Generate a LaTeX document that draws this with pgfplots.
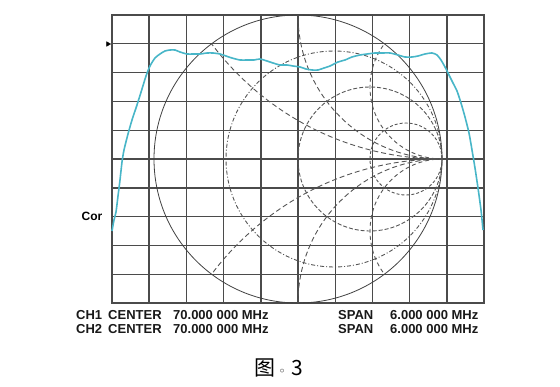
\documentclass[border=0pt]{standalone}
\usepackage{pgfplots}
\pgfplotsset{compat=1.18}
\usepackage{fontspec}
\setmainfont{Liberation Sans}
\newfontfamily\cjk{Noto Sans CJK SC}
\newfontfamily\dejavu{DejaVu Sans}
\definecolor{trace}{RGB}{72,182,200}
\definecolor{gridc}{RGB}{75,75,75}
\definecolor{smithc}{RGB}{85,85,85}
\pgfplotstableread{
x y
0 72
2 83
4 91
6 107
8 123
10 141
12 153
16 169
20 183
25 198
30 214
34 227
38 237
43 245
48 249
53 252
58 253
63 253
68 251
75 249
81 249
88 249
95 250
101 250
108 249
114 247
120 245
128 243
135 243
142 243
148 244
155 242
161 240
168 238
175 238
181 237
188 236
194 234
200 233
206 233
212 235
218 237
226 241
233 243
240 246
248 248
255 249
263 250
270 250
278 250
286 248
293 246
300 246
306 247
313 249
320 250
325 248
329 243
333 236
337 228
341 220
345 212
349 200
353 186
357 170
360 153
363 135
366 115
369 93
371 73
}\tracedata
\begin{document}
\begin{tikzpicture}
\path (-112pt,-83pt) rectangle (448pt,303pt);
\begin{axis}[
  at={(0pt,0pt)}, anchor=south west,
  scale only axis, width=372pt, height=288pt,
  xmin=0, xmax=372, ymin=0, ymax=288,
  xtick={37.2,74.4,111.6,148.8,186,223.2,260.4,297.6,334.8},
  ytick={28.8,57.6,86.4,115.2,144,172.8,201.6,230.4,259.2},
  xticklabels={}, yticklabels={},
  major tick length=0pt,
  grid=major,
  major grid style={gridc, line width=1.4pt},
  axis line style={gridc, line width=1.4pt},
  clip=false,
]
% Smith chart overlay
\draw[black!75, line width=0.8pt] (axis cs:186,144) circle [radius=144];
\draw[smithc, line width=0.9pt, dash pattern=on 4pt off 2pt on 1pt off 2pt] (axis cs:222,144) circle [radius=108];
\draw[smithc, line width=0.9pt, dash pattern=on 4pt off 2pt] (axis cs:258,144) circle [radius=72];
\draw[smithc, line width=0.9pt, dash pattern=on 3pt off 2pt] (axis cs:294,144) circle [radius=36];
\begin{scope}
  \clip (axis cs:186,144) circle [radius=144];
  \draw[smithc, line width=0.9pt, dash pattern=on 5pt off 3pt] (axis cs:330,432) circle [radius=288];
  \draw[smithc, line width=0.9pt, dash pattern=on 5pt off 3pt] (axis cs:330,-144) circle [radius=288];
  \draw[smithc, line width=0.9pt, dash pattern=on 5pt off 3pt] (axis cs:330,288) circle [radius=144];
  \draw[smithc, line width=0.9pt, dash pattern=on 5pt off 3pt] (axis cs:330,0) circle [radius=144];
  \draw[smithc, line width=0.9pt, dash pattern=on 4pt off 3pt] (axis cs:330,216) circle [radius=72];
  \draw[smithc, line width=0.9pt, dash pattern=on 4pt off 3pt] (axis cs:330,72) circle [radius=72];
\end{scope}
% trace
\addplot[trace, line width=1.6pt, smooth, tension=0.4] table[x=x,y=y] {\tracedata};
% reference marker
\addplot[black, mark=triangle*, mark size=2.6pt, mark options={rotate=-90}, only marks] coordinates {(-4,259)};
\node[font=\bfseries\fontsize{12}{14}\selectfont] at (axis cs:-20,87) {Cor};
% annotations
\tikzset{lab/.style={anchor=base west, font=\bfseries\fontsize{13}{15}\selectfont, inner sep=0pt, text=black!90}}
\node[lab] at (axis cs:-36,-16) {CH1};
\node[lab] at (axis cs:-4,-16) {CENTER};
\node[lab] at (axis cs:61,-16) {70.000 000 MHz};
\node[lab] at (axis cs:226,-16) {SPAN};
\node[lab] at (axis cs:278,-16) {6.000 000 MHz};
\node[lab] at (axis cs:-36,-30) {CH2};
\node[lab] at (axis cs:-4,-30) {CENTER};
\node[lab] at (axis cs:61,-30) {70.000 000 MHz};
\node[lab] at (axis cs:226,-30) {SPAN};
\node[lab] at (axis cs:278,-30) {6.000 000 MHz};
\node[anchor=base, inner sep=0pt, font=\fontsize{21}{24}\selectfont] at (axis cs:167,-72) {\cjk 图\hspace{3pt}{\dejavu\fontsize{12}{14}\selectfont ◦}\hspace{6pt}3};
\end{axis}
\end{tikzpicture}
\end{document}
